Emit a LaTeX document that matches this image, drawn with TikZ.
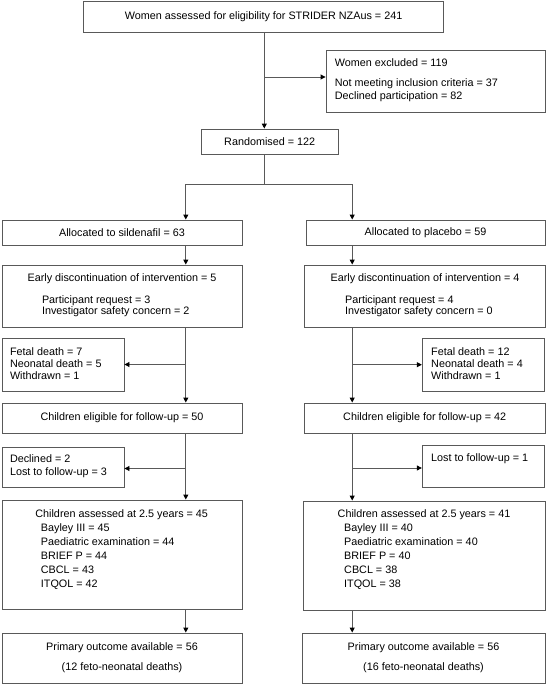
\documentclass[tikz,border=0pt]{standalone}
\usepackage{fontspec}
\setmainfont{Liberation Sans}
\usetikzlibrary{arrows.meta}
\definecolor{lngray}{gray}{0.35}
\begin{document}
\begin{tikzpicture}[x=1pt,y=-1pt,
  every node/.style={font=\fontsize{10.8}{12}\selectfont},
  box/.style={draw=lngray, line width=0.9pt, inner sep=0pt, align=center},
  txt/.style={inner sep=0pt, anchor=west, text height=7.8pt, text depth=2pt},
  ctxt/.style={inner sep=0pt, text height=7.8pt, text depth=2pt},
  ln/.style={draw=lngray, line width=0.9pt},
  arr/.style={draw=lngray, line width=0.9pt, -{Triangle[length=5pt,width=5pt,color=black]}}]
\useasboundingbox (0,0) rectangle (547,685);
% boxes
\node[box, minimum width=360pt, minimum height=31pt] (b1) at (263.6,16.5) {Women assessed for eligibility for STRIDER NZAus = 241};
\node[box, minimum width=219pt, minimum height=62pt] (excl) at (435.5,81) {};
\node[box, minimum width=137pt, minimum height=25pt] (rand) at (269.7,141.5) {Randomised = 122};
\node[box, minimum width=240pt, minimum height=25pt] (allocL) at (122,232.5) {Allocated to sildenafil = 63};
\node[box, minimum width=239pt, minimum height=25pt] (allocR) at (425.5,232.5) {Allocated to placebo = 59};
\node[box, minimum width=240pt, minimum height=62pt] (earlyL) at (122,296) {};
\node[box, minimum width=240.6pt, minimum height=62pt] (earlyR) at (424.7,296) {};
\node[box, minimum width=122pt, minimum height=53pt] (fetalL) at (63,364.5) {};
\node[box, minimum width=122pt, minimum height=53pt] (fetalR) at (483.3,364.7) {};
\node[box, minimum width=240pt, minimum height=30pt] (eligL) at (122,418) {Children eligible for follow-up = 50};
\node[box, minimum width=240.6pt, minimum height=30pt] (eligR) at (424.7,418) {Children eligible for follow-up = 42};
\node[box, minimum width=122pt, minimum height=40pt] (declL) at (63,467) {};
\node[box, minimum width=122pt, minimum height=42pt] (lostR) at (483.3,466) {};
\node[box, minimum width=240pt, minimum height=109pt] (assL) at (122,554.5) {};
\node[box, minimum width=241.5pt, minimum height=109pt] (assR) at (424.25,555.5) {};
\node[box, minimum width=240pt, minimum height=50pt] (primL) at (122,658) {};
\node[box, minimum width=243pt, minimum height=50pt] (primR) at (423.5,658) {};
% texts inside boxes
\node[txt] (e1) at (334.7,64) {Women excluded = 119};
\node[txt] (e2) at (334.7,84) {Not meeting inclusion criteria = 37};
\node[txt] (e3) at (334.7,97) {Declined participation = 82};
\node[ctxt] (el0) at (122,279) {Early discontinuation of intervention = 5};
\node[txt] (el1) at (41.8,300.5) {Participant request = 3};
\node[txt] (el2) at (41.8,312) {Investigator safety concern = 2};
\node[ctxt] (er0) at (425,279) {Early discontinuation of intervention = 4};
\node[txt] (er1) at (345,300.5) {Participant request = 4};
\node[txt] (er2) at (345,312) {Investigator safety concern = 0};
\node[txt] (fl1) at (9.8,353) {Fetal death = 7};
\node[txt] (fl2) at (9.8,365) {Neonatal death = 5};
\node[txt] (fl3) at (9.8,376.5) {Withdrawn = 1};
\node[txt] (fr1) at (431,353) {Fetal death = 12};
\node[txt] (fr2) at (431,365) {Neonatal death = 4};
\node[txt] (fr3) at (431,376.5) {Withdrawn = 1};
\node[txt] (dl1) at (9.8,460) {Declined = 2};
\node[txt] (dl2) at (9.8,473) {Lost to follow-up = 3};
\node[txt] (lr1) at (431,458.5) {Lost to follow-up = 1};
\node[ctxt] (al0) at (121.7,515) {Children assessed at 2.5 years = 45};
\node[txt] (al1) at (40.7,529) {Bayley III = 45};
\node[txt] (al2) at (40.7,543) {Paediatric examination = 44};
\node[txt] (al3) at (40.7,557) {BRIEF P = 44};
\node[txt] (al4) at (40.7,571) {CBCL = 43};
\node[txt] (al5) at (40.7,585) {ITQOL = 42};
\node[ctxt] (ar0) at (424,515) {Children assessed at 2.5 years = 41};
\node[txt] (ar1) at (344,529) {Bayley III = 40};
\node[txt] (ar2) at (344,543) {Paediatric examination = 40};
\node[txt] (ar3) at (344,557) {BRIEF P = 40};
\node[txt] (ar4) at (344,571) {CBCL = 38};
\node[txt] (ar5) at (344,585) {ITQOL = 38};
\node[ctxt] (pl1) at (122,648) {Primary outcome available = 56};
\node[ctxt] (pl2) at (122,668) {(12 feto-neonatal deaths)};
\node[ctxt] (pr1) at (423.5,648) {Primary outcome available = 56};
\node[ctxt] (pr2) at (423.5,668) {(16 feto-neonatal deaths)};
% connectors
\coordinate (cl) at (185.8,0);
\coordinate (cr) at (352.2,0);
\coordinate (j1) at (264.3,77);
\coordinate (sp) at (264.3,184);
\draw[arr] (j1 |- b1.south) -- (j1 |- rand.north);
\draw[arr] (j1) -- (j1 -| excl.west);
\draw[ln] (sp |- rand.south) -- (sp);
\draw[arr] (sp) -| (cl |- allocL.north);
\draw[arr] (sp) -| (cr |- allocR.north);
\draw[arr] (cl |- allocL.south) -- (cl |- earlyL.north);
\draw[arr] (cr |- allocR.south) -- (cr |- earlyR.north);
\draw[arr] (cl |- earlyL.south) -- (cl |- eligL.north);
\draw[arr] (cr |- earlyR.south) -- (cr |- eligR.north);
\draw[arr] (cl |- fetalL.east) -- (fetalL.east);
\draw[arr] (cr |- fetalR.west) -- (fetalR.west);
\draw[arr] (cl |- eligL.south) -- (cl |- assL.north);
\draw[arr] (cr |- eligR.south) -- (cr |- assR.north);
\draw[arr] (cl |- declL.east) ++(0,1.5) -- ([yshift=-1.5pt]declL.east);
\draw[arr] (cr |- lostR.west) ++(0,2) -- ([yshift=-2pt]lostR.west);
\draw[arr] (cl |- assL.south) -- (cl |- primL.north);
\draw[arr] (cr |- assR.south) -- (cr |- primR.north);
\end{tikzpicture}
\end{document}
